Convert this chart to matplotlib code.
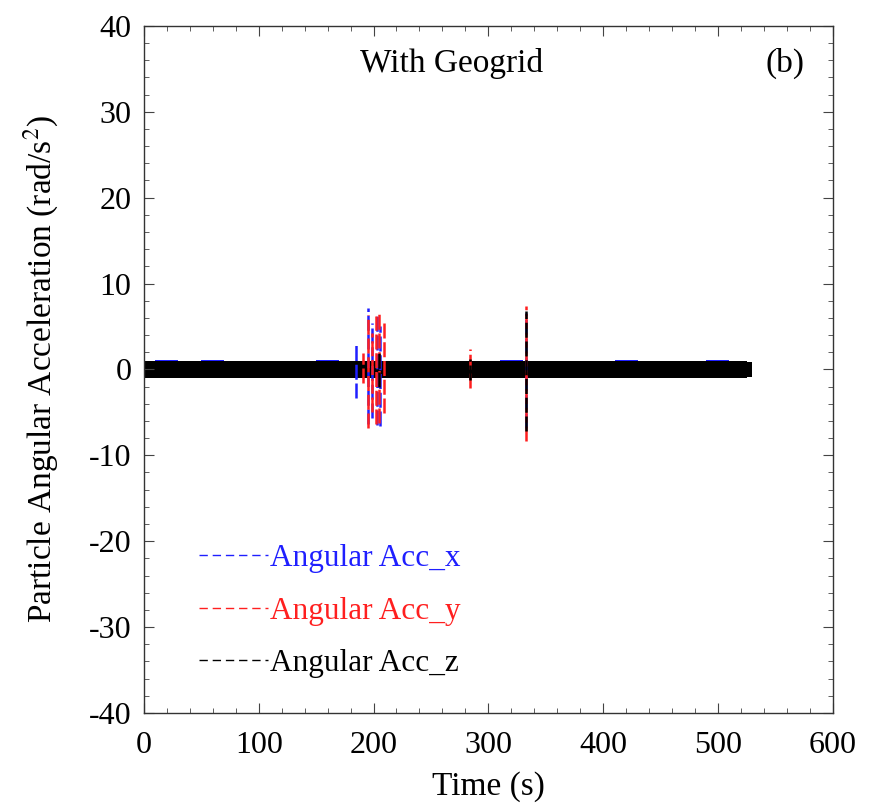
import numpy as np
import matplotlib.pyplot as plt
from matplotlib.lines import Line2D

# band envelope of the dense signal, read every 20 s
t_band = [0, 20, 40, 60, 80, 100, 120, 140, 160, 180, 200, 220, 240, 260,
          280, 300, 320, 340, 360, 380, 400, 420, 440, 460, 480, 500, 520, 530]
x_up = [0.9, 1.05, 0.9, 1.05, 0.9, 0.9, 0.9, 0.9, 1.05, 0.9, 1.0, 0.9, 0.9, 0.9,
        0.9, 0.9, 1.05, 0.9, 0.9, 0.9, 0.9, 1.05, 0.9, 1.0, 0.9, 1.05, 0.9, 0.8]
x_lo = [-1.05, -0.9, -0.9, -0.9, -0.9, -1.05, -0.9, -0.9, -0.9, -1.05, -0.9, -0.9, -0.9, -0.9,
        -1.05, -0.9, -0.9, -0.9, -0.9, -0.9, -1.05, -0.9, -0.9, -0.9, -1.05, -0.9, -0.9, -0.8]
y_up = [0.9, 0.9, 1.0, 0.9, 0.9, 0.9, 0.9, 1.0, 0.9, 0.9, 0.9, 0.9, 0.9, 1.0,
        0.9, 0.9, 0.9, 0.9, 0.9, 0.9, 0.9, 0.9, 0.9, 0.9, 0.9, 0.9, 0.9, 0.8]
y_lo = [-0.9, -0.9, -0.9, -0.9, -1.0, -0.9, -0.9, -0.9, -0.9, -0.9, -1.0, -0.9, -0.9, -0.9,
        -0.9, -1.0, -0.9, -0.9, -0.9, -0.9, -0.9, -0.9, -0.9, -0.9, -0.9, -0.9, -0.9, -0.8]
z_up = [0.95, 1.0, 0.95, 1.0, 1.0, 0.95, 0.95, 1.0, 0.95, 1.0, 1.0, 0.95, 1.0, 0.95,
        0.95, 1.0, 0.95, 1.0, 0.95, 1.0, 0.95, 1.0, 0.95, 1.0, 1.0, 1.0, 0.95, 0.85]
z_lo = [-1.0, -0.95, -1.0, -0.95, -0.95, -1.0, -0.95, -1.0, -0.95, -1.0, -1.0, -0.95, -0.95, -1.0,
        -0.95, -0.95, -1.0, -0.95, -0.95, -0.95, -1.0, -0.95, -1.0, -0.95, -0.95, -0.95, -0.95, -0.85]

# spikes: time, peak, trough
x_spk_t = [184.6, 194.8, 198.8, 203.0, 205.5, 332.4]
x_spk_hi = [2.8, 7.2, 5.4, 6.5, 5.0, 6.6]
x_spk_lo = [-3.3, -6.3, -5.6, -6.5, -6.6, -6.8]
y_spk_t = [190.7, 194.8, 198.8, 202.5, 205.0, 209.3, 283.9, 332.4]
y_spk_hi = [1.9, 6.3, 4.2, 6.2, 6.4, 5.4, 2.4, 7.4]
y_spk_lo = [-1.6, -6.8, -5.0, -6.4, -6.2, -5.1, -2.2, -8.3]
z_spk_t = [204.5, 283.9, 332.4]
z_spk_hi = [2.2, 1.2, 6.8]
z_spk_lo = [-2.1, -1.2, -7.2]

labels = ['Angular Acc_x', 'Angular Acc_y', 'Angular Acc_z']
colors = ['#1f1fff', '#ff1f1f', 'black']

plt.rcParams['font.family'] = ['Liberation Serif', 'DejaVu Serif']
plt.rcParams['mathtext.fontset'] = 'stix'
plt.rcParams['axes.unicode_minus'] = False

fig = plt.figure(figsize=(8.72, 8.09), dpi=100)
ax = fig.add_axes([0.165, 0.1187, 0.79, 0.8493])

bands = [(x_up, x_lo), (y_up, y_lo), (z_up, z_lo)]
spikes = [(x_spk_t, x_spk_hi, x_spk_lo), (y_spk_t, y_spk_hi, y_spk_lo),
          (z_spk_t, z_spk_hi, z_spk_lo)]
for (up, lo), (st, sh, sl), c in zip(bands, spikes, colors):
    ax.fill_between(t_band, lo, up, step='mid', color=c, lw=0)
    ax.vlines(st, sl, sh, colors=c, linestyles=(0, (6, 1.5)), lw=1.8)

ax.set_xlim(0, 600)
ax.set_ylim(-40, 40)
ax.set_xticks(np.arange(0, 601, 100))
ax.set_yticks(np.arange(-40, 41, 10))
ax.set_xticks(np.arange(0, 601, 20), minor=True)
ax.set_yticks(np.arange(-40, 41, 2), minor=True)
ax.tick_params(which='both', direction='in', top=True, right=True, labelsize=23,
               color='#444444')
ax.tick_params(which='major', length=7, pad=9)
ax.tick_params(axis='x', which='major', pad=13)
ax.tick_params(which='minor', length=3.5)
for s in ax.spines.values():
    s.set_color('#333333')
    s.set_linewidth(1.0)

ax.set_xlabel('Time (s)', fontsize=24, labelpad=8)
ax.set_ylabel('Particle Angular Acceleration (rad/s$^{2}$)', fontsize=24, labelpad=20)

ax.text(0.447, 0.945, 'With Geogrid', transform=ax.transAxes, fontsize=24,
        ha='center', va='center')
ax.text(0.930, 0.945, '(b)', transform=ax.transAxes, fontsize=24,
        ha='center', va='center')

handles = [Line2D([], [], color=c, lw=1.0, dashes=(6, 3.5)) for c in colors]
leg = ax.legend(handles, labels, loc='lower left', bbox_to_anchor=(0.058, 0.028),
                frameon=False, fontsize=22.5, handlelength=2.2, handletextpad=0.06,
                labelspacing=0.75, borderpad=0)
for txt, c in zip(leg.get_texts(), colors):
    txt.set_color(c)

plt.savefig('out.png', dpi=100)
